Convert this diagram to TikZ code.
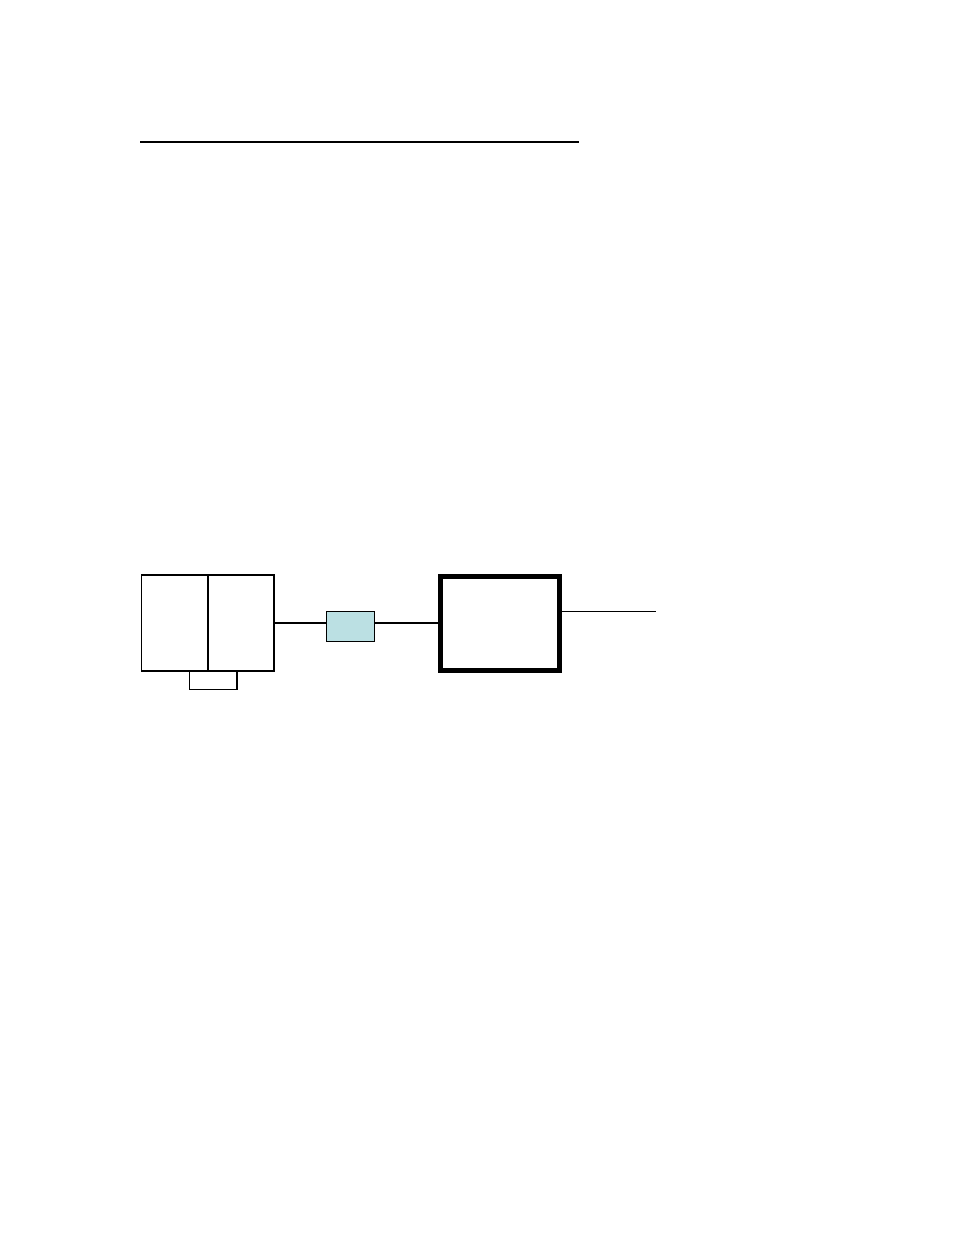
\documentclass[tikz,border=0pt]{standalone}
\usepackage{tikz}
\usetikzlibrary{positioning}
\definecolor{tealbox}{HTML}{BBE0E3}

\begin{document}
\begin{tikzpicture}[x=1pt,y=-1pt,every node/.style={draw,inner sep=0pt,line width=1.3pt},
    thinline/.style={line width=1.3pt}]
    \useasboundingbox (0,0) rectangle (954,1235);

    % rule at the top
    \coordinate (ruleL) at (140,142);
    \coordinate (ruleR) at (579,142);
    \draw[line width=2.2pt] (ruleL) -- (ruleR);

    % left unit, two halves and a foot
    \node[minimum width=65.5pt,minimum height=96pt] (unitL) at (174.5,623) {};
    \node[minimum width=65.5pt,minimum height=96pt,right=0pt of unitL] (unitR) {};
    \node[minimum width=47.4pt,minimum height=18pt,anchor=north] (foot) at (213,671) {};
    \draw[line width=2.2pt] (foot.north east) -- (foot.south east);

    % small filter box
    \node[fill=tealbox,minimum width=48pt,minimum height=29.6pt] (filter) at (350.7,626.5) {};

    % main block
    \node[line width=5pt,minimum width=118.7pt,minimum height=94.3pt] (block) at (499.8,623.6) {};
    \coordinate (outR) at (656,611.3);

    \draw[thinline] (unitR.east |- 0,623) -- (filter.west |- 0,623);
    \draw[thinline] (filter.east |- 0,623) -- (block.west |- 0,623);
    \draw[thinline] (block.east |- outR) -- (outR);
\end{tikzpicture}
\end{document}
